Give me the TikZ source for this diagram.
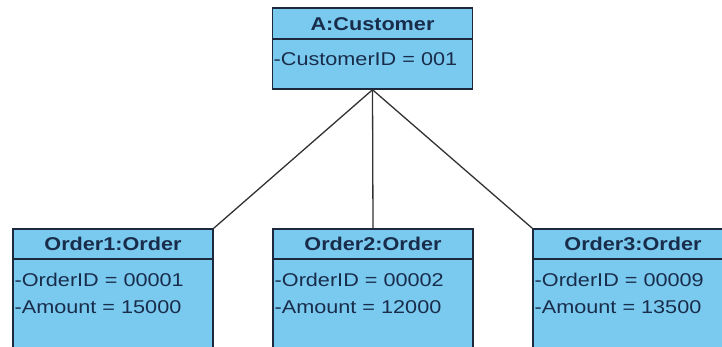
\documentclass[tikz,border=0pt]{standalone}
\usepackage{fontspec}
\setmainfont[FakeStretch=1.17]{Liberation Sans}
\usepackage{tikz}
\definecolor{objfill}{RGB}{122,202,240}
\definecolor{objline}{RGB}{30,40,60}
\definecolor{objtext}{RGB}{25,45,75}
\definecolor{linkline}{RGB}{50,50,50}

\begin{document}
\begin{tikzpicture}[x=1pt,y=1pt,
        objbox/.style={draw=objline,fill=objfill,line width=1.5pt,minimum width=200pt,inner sep=0pt},
        objname/.style={text=objtext,font=\fontsize{18.5}{21}\selectfont\bfseries,inner sep=0pt},
        objattr/.style={text=objtext,font=\fontsize{18.5}{21}\selectfont,anchor=west,inner sep=0pt},
        link/.style={draw=linkline,line width=1.3pt}]
        \path[use as bounding box,clip] (0,0) rectangle (722,347);
        \fill[white] (0,0) rectangle (722,347);
        % customer object
        \node[objbox,minimum height=81pt] (cust) at (372.5,298.5) {};
        \draw[objline,line width=1.3pt] (272,308) -- (473,308);
        \node[objname] (custname) at (372.5,323) {A:Customer};
        \node[objattr] (custid) at (273.5,288) {-CustomerID = 001};
        % order objects
        \node[objbox,minimum height=140pt] (ord1) at (113,48) {};
        \node[objbox,minimum height=140pt] (ord2) at (373,48) {};
        \node[objbox,minimum height=140pt] (ord3) at (633,48) {};
        \draw[objline,line width=1.3pt] (13,88) -- (213,88);
        \draw[objline,line width=1.3pt] (273,88) -- (473,88);
        \draw[objline,line width=1.3pt] (533,88) -- (733,88);
        \node[objname] (ord1name) at (113,103) {Order1:Order};
        \node[objname] (ord2name) at (373,103) {Order2:Order};
        \node[objname] (ord3name) at (633,103) {Order3:Order};
        \node[objattr] (ord1id) at (14.5,67) {-OrderID = 00001};
        \node[objattr] (ord1amt) at (14.5,40) {-Amount = 15000};
        \node[objattr] (ord2id) at (274.5,67) {-OrderID = 00002};
        \node[objattr] (ord2amt) at (274.5,40) {-Amount = 12000};
        \node[objattr] (ord3id) at (534.5,67) {-OrderID = 00009};
        \node[objattr] (ord3amt) at (534.5,40) {-Amount = 13500};
        % links
        \draw[link] (cust.south) -- (ord1.north east);
        \draw[link] (cust.south) -- (ord2.north);
        \draw[link] (cust.south) -- (ord3.north west);
    \end{tikzpicture}
\end{document}
